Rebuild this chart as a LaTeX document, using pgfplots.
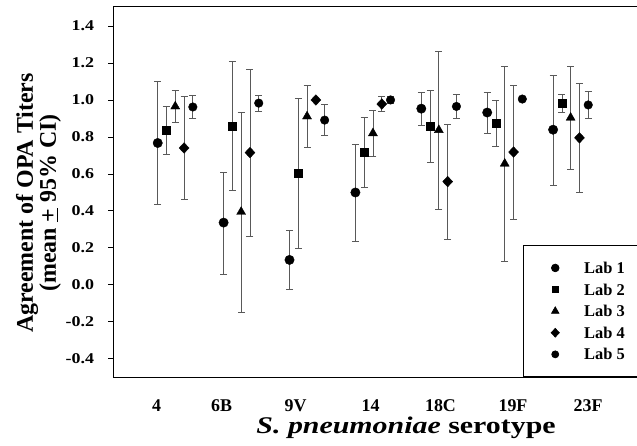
\documentclass[border=0pt]{standalone}
\usepackage{fontspec}
\setmainfont{Liberation Serif}
\newfontfamily\xlfont[FakeStretch=1.25]{Liberation Serif}
\newfontfamily\tickfont[FakeStretch=1.2]{Liberation Serif}
\usepackage{pgfplots}
\pgfplotsset{compat=1.18}
\usepackage{pgfplotstable}

% x = serotype index (Lab 1) + lab offset; ep/em = upper/lower CI length
\pgfplotstableread{
x      y      ep     em
0.000  0.767  0.333  0.333
1.000  0.336  0.271  0.278
2.000  0.134  0.159  0.159
3.000  0.499  0.262  0.264
4.000  0.953  0.088  0.091
5.000  0.932  0.111  0.113
6.000  0.839  0.296  0.299
}\labone
\pgfplotstableread{
x      y      ep     em
0.133  0.835  0.130  0.128
1.133  0.857  0.352  0.347
2.133  0.604  0.403  0.407
3.133  0.718  0.190  0.192
4.133  0.857  0.195  0.196
5.133  0.873  0.126  0.125
6.133  0.983  0.049  0.050
}\labtwo
\pgfplotstableread{
x      y      ep     em
0.266  0.965  0.087  0.085
1.266  0.394  0.541  0.542
2.266  0.911  0.168  0.170
3.266  0.820  0.123  0.126
4.266  0.837  0.426  0.427
5.266  0.655  0.527  0.528
6.266  0.904  0.278  0.278
}\labthree
\pgfplotstableread{
x      y      ep     em
0.400  0.740  0.280  0.280
1.400  0.715  0.451  0.451
2.400  1.000  0.000  0.000
3.400  0.978  0.041  0.042
4.400  0.558  0.312  0.312
5.400  0.718  0.362  0.362
6.400  0.795  0.295  0.295
}\labfour
\pgfplotstableread{
x      y      ep     em
0.533  0.962  0.064  0.064
1.533  0.983  0.042  0.042
2.533  0.891  0.083  0.083
3.533  1.000  0.019  0.019
4.533  0.965  0.064  0.064
5.533  1.005  0.000  0.000
6.533  0.973  0.075  0.075
}\labfive

\begin{document}
\begin{tikzpicture}
\begin{axis}[
    scale only axis,
    width=523.7bp, height=370.3bp,
    xmin=-0.674, xmax=7.273,
    ymin=-0.5, ymax=1.505,
    clip=false,
    axis line style={draw=none},
    xtick={-0.015,0.97,2.094,3.229,4.291,5.391,6.53},
    xticklabels={4,6B,9V,14,18C,19F,23F},
    xtick style={draw=none},
    ytick={-0.4,-0.2,0,0.2,0.4,0.6,0.8,1.0,1.2,1.4},
    ytick pos=left,
    tick align=outside,
    major tick length=5bp,
    ytick style={black, line width=0.6pt},
    yticklabel style={/pgf/number format/.cd, fixed, fixed zerofill, precision=1,
        assume math mode=true, /tikz/.cd,
        font=\tickfont\fontsize{15}{15}\selectfont\bfseries,
        anchor=east, inner sep=0pt, xshift=-14bp},
    xticklabel style={font=\fontsize{18}{18}\selectfont\bfseries,
        anchor=base, inner sep=0pt, yshift=-29.2bp},
    xlabel={\xlfont\textbf{\textit{S. pneumoniae} serotype}},
    xlabel style={font=\fontsize{24}{24}\selectfont, inner sep=0pt,
        text height=16bp, text depth=5bp,
        at={(axis description cs:0.559,-0.153)}, anchor=base},
    ylabel={Agreement of OPA Titers\\(mean \underline{+} 95\% CI)},
    ylabel style={font=\fontsize{24}{21}\selectfont\bfseries, align=center,
        at={(axis description cs:-0.1428,0.47)}, anchor=center},
    legend style={at={(rel axis cs:0.782,0)}, anchor=south west,
        draw=black, line width=0.7pt,
        inner xsep=28bp, inner ysep=16.8bp, row sep=10.6bp,
        font=\fontsize{16.5}{16.5}\selectfont\bfseries,
        nodes={inner sep=0pt, text height=11bp, text depth=0pt},
        /tikz/every odd column/.append style={column sep=24.8bp}},
    legend cell align=left,
    legend image post style={/tikz/every mark/.append style={scale=0.82}},
    every axis plot/.append style={only marks, black,
        error bars/y dir=both, error bars/y explicit,
        error bars/error bar style={line width=0.7pt, black!65},
        error bars/error mark options={rotate=90, black!65, line width=0.7pt, mark size=3.5bp}},
]
\draw[black, line width=0.8pt] (rel axis cs:1,1) -- (rel axis cs:0,1)
    -- (rel axis cs:0,0) -- (rel axis cs:1,0);
\addplot[mark=*, mark size=4.7bp] table[x=x, y=y, y error plus=ep, y error minus=em] {\labone};
\addplot[mark=square*, mark size=4bp] table[x=x, y=y, y error plus=ep, y error minus=em] {\labtwo};
\addplot[mark=triangle*, mark size=5.2bp] table[x=x, y=y, y error plus=ep, y error minus=em] {\labthree};
\addplot[mark=diamond*, mark size=5.3bp, mark options={xscale=1.25}] table[x=x, y=y, y error plus=ep, y error minus=em] {\labfour};
\addplot[mark=*, mark size=4.3bp] table[x=x, y=y, y error plus=ep, y error minus=em] {\labfive};
\legend{Lab 1, Lab 2, Lab 3, Lab 4, Lab 5}
\end{axis}
\pgfresetboundingbox
\path ([xshift=-113.3bp, yshift=-69bp]current axis.south west) rectangle ([yshift=6.7bp]current axis.north east);
\end{tikzpicture}
\end{document}
